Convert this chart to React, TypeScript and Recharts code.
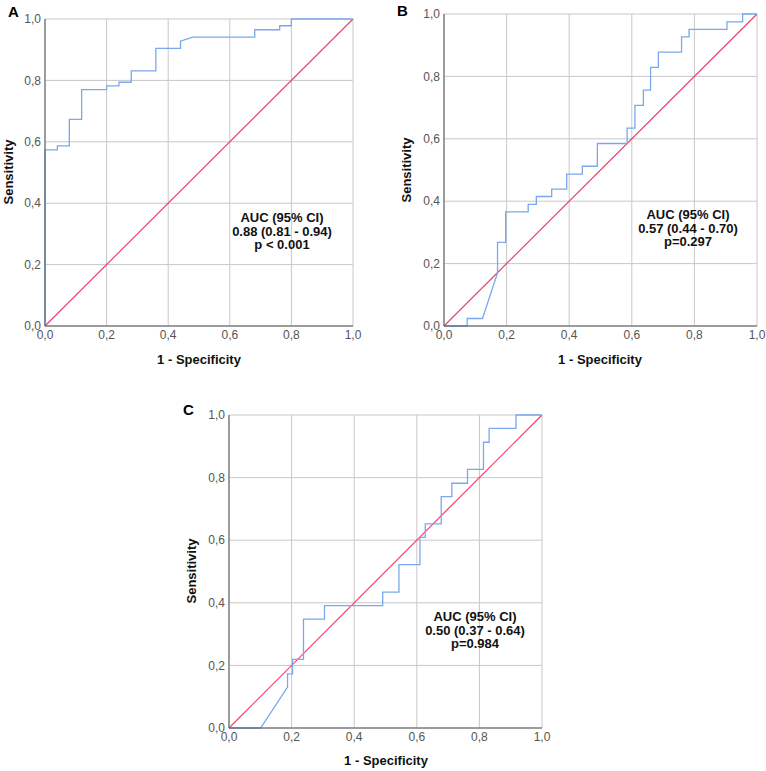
import React from 'react';
import { LineChart, Line, XAxis, YAxis, CartesianGrid } from 'recharts';

const axisTicks = [0, 0.2, 0.4, 0.6, 0.8, 1.0];
const axisTickLabels = ['0,0', '0,2', '0,4', '0,6', '0,8', '1,0'];

const diagFpr = [0, 1];
const diagTpr = [0, 1];

const rocAFpr = [0, 0, 0.040, 0.040, 0.079, 0.079, 0.119, 0.119, 0.200, 0.200, 0.240, 0.240, 0.280, 0.280, 0.360, 0.360, 0.440, 0.440, 0.479, 0.681, 0.681, 0.762, 0.762, 0.800, 0.800, 1.0];
const rocATpr = [0, 0.574, 0.574, 0.587, 0.587, 0.673, 0.673, 0.770, 0.770, 0.782, 0.782, 0.794, 0.794, 0.831, 0.831, 0.904, 0.904, 0.928, 0.941, 0.941, 0.965, 0.965, 0.978, 0.978, 1.0, 1.0];

const rocBFpr = [0, 0.074, 0.074, 0.123, 0.171, 0.171, 0.197, 0.197, 0.269, 0.269, 0.295, 0.295, 0.344, 0.344, 0.392, 0.392, 0.442, 0.442, 0.490, 0.490, 0.585, 0.585, 0.610, 0.610, 0.637, 0.637, 0.660, 0.660, 0.685, 0.685, 0.759, 0.759, 0.783, 0.783, 0.904, 0.904, 0.954, 0.954, 1.0];
const rocBTpr = [0, 0, 0.024, 0.024, 0.17, 0.268, 0.268, 0.366, 0.366, 0.390, 0.390, 0.415, 0.415, 0.439, 0.439, 0.487, 0.487, 0.512, 0.512, 0.585, 0.585, 0.634, 0.634, 0.707, 0.707, 0.756, 0.756, 0.829, 0.829, 0.878, 0.878, 0.927, 0.927, 0.951, 0.951, 0.975, 0.975, 1.0, 1.0];

const rocCFpr = [0, 0.101, 0.187, 0.187, 0.203, 0.203, 0.238, 0.238, 0.305, 0.305, 0.491, 0.491, 0.543, 0.543, 0.610, 0.610, 0.627, 0.627, 0.678, 0.678, 0.712, 0.712, 0.762, 0.762, 0.813, 0.813, 0.831, 0.831, 0.917, 0.917, 1.0];
const rocCTpr = [0, 0, 0.131, 0.173, 0.173, 0.219, 0.219, 0.348, 0.348, 0.391, 0.391, 0.434, 0.434, 0.522, 0.522, 0.609, 0.609, 0.652, 0.652, 0.739, 0.739, 0.782, 0.782, 0.826, 0.826, 0.913, 0.913, 0.957, 0.957, 1.0, 1.0];

const panelLetters = ['A', 'B', 'C'];
const aucLines = [
  ['AUC (95% CI)', '0.88 (0.81 - 0.94)', 'p < 0.001'],
  ['AUC (95% CI)', '0.57 (0.44 - 0.70)', 'p=0.297'],
  ['AUC (95% CI)', '0.50 (0.37 - 0.64)', 'p=0.984'],
];
const xTitle = '1 - Specificity';
const yTitle = 'Sensitivity';

const toPoints = (xs: number[], ys: number[]) => xs.map((x, i) => ({ x, y: ys[i] }));

const FONT = '"Liberation Sans", Arial, sans-serif';
const BLUE = '#7aa8ee';
const RED = '#e4476e';

type PanelProps = {
  left: number; top: number; width: number; height: number;
  margin: { top: number; right: number; bottom: number; left: number };
  roc: { x: number; y: number }[];
  letter: string; letterPos: [number, number];
  auc: string[]; aucCenter: [number, number];
  yTitlePos: [number, number]; xTitlePos: [number, number];
};

function Panel(p: PanelProps) {
  const diag = toPoints(diagFpr, diagTpr);
  return (
    <>
      <div style={{ position: 'absolute', left: p.left, top: p.top }}>
        <LineChart width={p.width} height={p.height} margin={p.margin}>
          <CartesianGrid stroke="#c8c8c8" strokeWidth={1} />
          <XAxis
            type="number"
            dataKey="x"
            domain={[0, 1]}
            ticks={axisTicks}
            tickFormatter={(v: number) => axisTickLabels[axisTicks.indexOf(v)]}
            tickLine={false}
            tickSize={0}
            tickMargin={4}
            height={20}
            axisLine={{ stroke: '#555' }}
            tick={{ fill: '#555', fontSize: 12, fontFamily: FONT }}
            interval={0}
          />
          <YAxis
            type="number"
            dataKey="y"
            domain={[0, 1]}
            ticks={axisTicks}
            tickFormatter={(v: number) => axisTickLabels[axisTicks.indexOf(v)]}
            tickLine={false}
            tickSize={0}
            tickMargin={4}
            width={30}
            axisLine={{ stroke: '#555' }}
            tick={{ fill: '#555', fontSize: 12, fontFamily: FONT }}
            interval={0}
          />
          <Line data={diag} dataKey="y" stroke={RED} strokeWidth={1.2} dot={false} isAnimationActive={false} type="linear" />
          <Line data={p.roc} dataKey="y" stroke={BLUE} strokeWidth={1.3} dot={false} isAnimationActive={false} type="linear" />
        </LineChart>
      </div>
      <div style={{ position: 'absolute', left: p.letterPos[0], top: p.letterPos[1], fontFamily: FONT, fontWeight: 'bold', fontSize: 15, lineHeight: '15px', color: '#000' }}>{p.letter}</div>
      <div style={{ position: 'absolute', left: p.aucCenter[0] - 80, top: p.aucCenter[1], width: 160, textAlign: 'center', fontFamily: FONT, fontWeight: 'bold', fontSize: 13, lineHeight: '13.5px', color: '#111' }}>
        {p.auc.map((t, i) => <div key={i}>{t}</div>)}
      </div>
      <div style={{ position: 'absolute', left: p.yTitlePos[0] - 50, top: p.yTitlePos[1] - 8, width: 100, height: 16, textAlign: 'center', transform: 'rotate(-90deg)', fontFamily: FONT, fontWeight: 'bold', fontSize: 13, lineHeight: '16px', color: '#111' }}>{yTitle}</div>
      <div style={{ position: 'absolute', left: p.xTitlePos[0] - 60, top: p.xTitlePos[1] - 8, width: 120, height: 16, textAlign: 'center', fontFamily: FONT, fontWeight: 'bold', fontSize: 13, lineHeight: '16px', color: '#111' }}>{xTitle}</div>
    </>
  );
}

export default function App() {
  return (
    <div style={{ position: 'absolute', left: 0, top: 0, width: 766, height: 771, background: '#fff', overflow: 'hidden' }}>
      <Panel
        left={0} top={0} width={370} height={380}
        margin={{ top: 19, right: 17, bottom: 34, left: 15 }}
        roc={toPoints(rocAFpr, rocATpr)}
        letter={panelLetters[0]} letterPos={[8, 4]}
        auc={aucLines[0]} aucCenter={[282, 211]}
        yTitlePos={[9, 172]} xTitlePos={[199, 360]}
      />
      <Panel
        left={380} top={0} width={386} height={380}
        margin={{ top: 14, right: 9, bottom: 34, left: 34 }}
        roc={toPoints(rocBFpr, rocBTpr)}
        letter={panelLetters[1]} letterPos={[397, 3]}
        auc={aucLines[1]} aucCenter={[688, 208]}
        yTitlePos={[407, 170]} xTitlePos={[600, 360]}
      />
      <Panel
        left={180} top={390} width={380} height={381}
        margin={{ top: 25, right: 18, bottom: 23, left: 19 }}
        roc={toPoints(rocCFpr, rocCTpr)}
        letter={panelLetters[2]} letterPos={[183, 402]}
        auc={aucLines[2]} aucCenter={[475, 610]}
        yTitlePos={[192, 571]} xTitlePos={[386, 761]}
      />
    </div>
  );
}
